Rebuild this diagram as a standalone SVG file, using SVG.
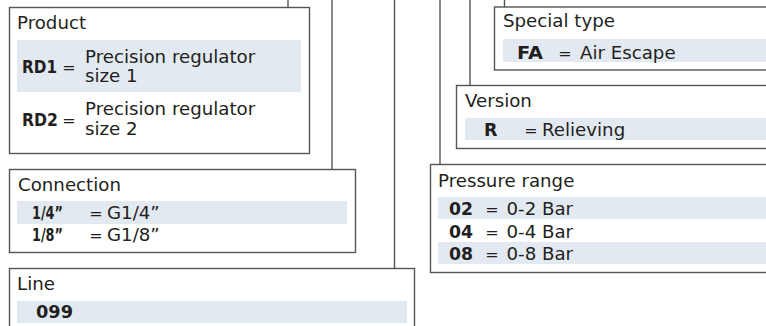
<svg xmlns="http://www.w3.org/2000/svg" width="766" height="326" viewBox="0 0 766 326">
<style>
.box{fill:#fff;stroke:#555;stroke-width:1.4}
.hl{fill:#e2e9f0}
.t{font-family:"DejaVu Sans",Verdana,sans-serif;font-size:18.2px;fill:#231f20}
.e{font-family:"DejaVu Sans",Verdana,sans-serif;font-size:16px;fill:#231f20;text-anchor:middle}
.b{font-family:"DejaVu Sans",Verdana,sans-serif;font-size:17.5px;font-weight:700;fill:#231f20}
.c{stroke:#555;stroke-width:1.4;fill:none}
</style>
<rect width="766" height="326" fill="#fff"/>
<g id="connectors">
<line class="c" x1="288" y1="0" x2="288" y2="7.5"/>
<line class="c" x1="332" y1="0" x2="332" y2="169.5"/>
<line class="c" x1="394.5" y1="0" x2="394.5" y2="268.5"/>
<line class="c" x1="440" y1="0" x2="440" y2="164.5"/>
<line class="c" x1="470" y1="0" x2="470" y2="85.5"/>
<line class="c" x1="504.5" y1="0" x2="504.5" y2="7"/>
</g>
<g id="product">
<rect class="box" x="9.5" y="7.5" width="300" height="146"/>
<rect class="hl" x="17" y="40" width="284" height="52"/>
<text class="t" x="17" y="29">Product</text>
<text class="b" x="22" y="73" textLength="35" lengthAdjust="spacingAndGlyphs">RD1</text>
<text class="e" x="69" y="73">=</text>
<text class="t" x="85" y="63">Precision regulator<tspan x="85" y="81.5">size 1</tspan></text>
<text class="b" x="22" y="126" textLength="36" lengthAdjust="spacingAndGlyphs">RD2</text>
<text class="e" x="69" y="126">=</text>
<text class="t" x="85" y="114.5">Precision regulator<tspan x="85" y="135">size 2</tspan></text>
</g>
<g id="connection">
<rect class="box" x="9.5" y="169.5" width="346" height="83"/>
<rect class="hl" x="17" y="201" width="330" height="23"/>
<text class="t" x="18" y="190.5">Connection</text>
<text class="b" x="32" y="219" textLength="31" lengthAdjust="spacingAndGlyphs">1/4”</text>
<text class="e" x="96" y="219">=</text>
<text class="t" x="107" y="219">G1/4”</text>
<text class="b" x="32" y="241" textLength="31" lengthAdjust="spacingAndGlyphs">1/8”</text>
<text class="e" x="96" y="241">=</text>
<text class="t" x="107" y="241">G1/8”</text>
</g>
<g id="line">
<rect class="box" x="9.5" y="268.5" width="405" height="80"/>
<rect class="hl" x="17" y="301" width="390" height="22"/>
<text class="t" x="17" y="290">Line</text>
<text class="b" x="36" y="318" textLength="37" lengthAdjust="spacingAndGlyphs">099</text>
</g>
<g id="special-type">
<rect class="box" x="494.5" y="7" width="300" height="63"/>
<rect class="hl" x="503" y="39" width="280" height="23"/>
<text class="t" x="503" y="27">Special type</text>
<text class="b" x="517" y="58.5" textLength="26" lengthAdjust="spacingAndGlyphs">FA</text>
<text class="e" x="565" y="58.5">=</text>
<text class="t" x="580" y="58.5">Air Escape</text>
</g>
<g id="version">
<rect class="box" x="456.5" y="85.5" width="330" height="63"/>
<rect class="hl" x="465" y="118" width="320" height="22"/>
<text class="t" x="465" y="106.5">Version</text>
<text class="b" x="484" y="136">R</text>
<text class="e" x="531" y="136">=</text>
<text class="t" x="542" y="136">Relieving</text>
</g>
<g id="pressure-range">
<rect class="box" x="430.5" y="164.5" width="360" height="108"/>
<rect class="hl" x="438" y="197" width="345" height="22"/>
<rect class="hl" x="438" y="242" width="345" height="22"/>
<text class="t" x="438" y="186.5">Pressure range</text>
<text class="b" x="449" y="215" textLength="24" lengthAdjust="spacingAndGlyphs">02</text>
<text class="e" x="492" y="215">=</text>
<text class="t" x="506.5" y="215">0-2 Bar</text>
<text class="b" x="449" y="237.5" textLength="24" lengthAdjust="spacingAndGlyphs">04</text>
<text class="e" x="492" y="237.5">=</text>
<text class="t" x="506.5" y="237.5">0-4 Bar</text>
<text class="b" x="449" y="260" textLength="24" lengthAdjust="spacingAndGlyphs">08</text>
<text class="e" x="492" y="260">=</text>
<text class="t" x="506.5" y="260">0-8 Bar</text>
</g>
</svg>
